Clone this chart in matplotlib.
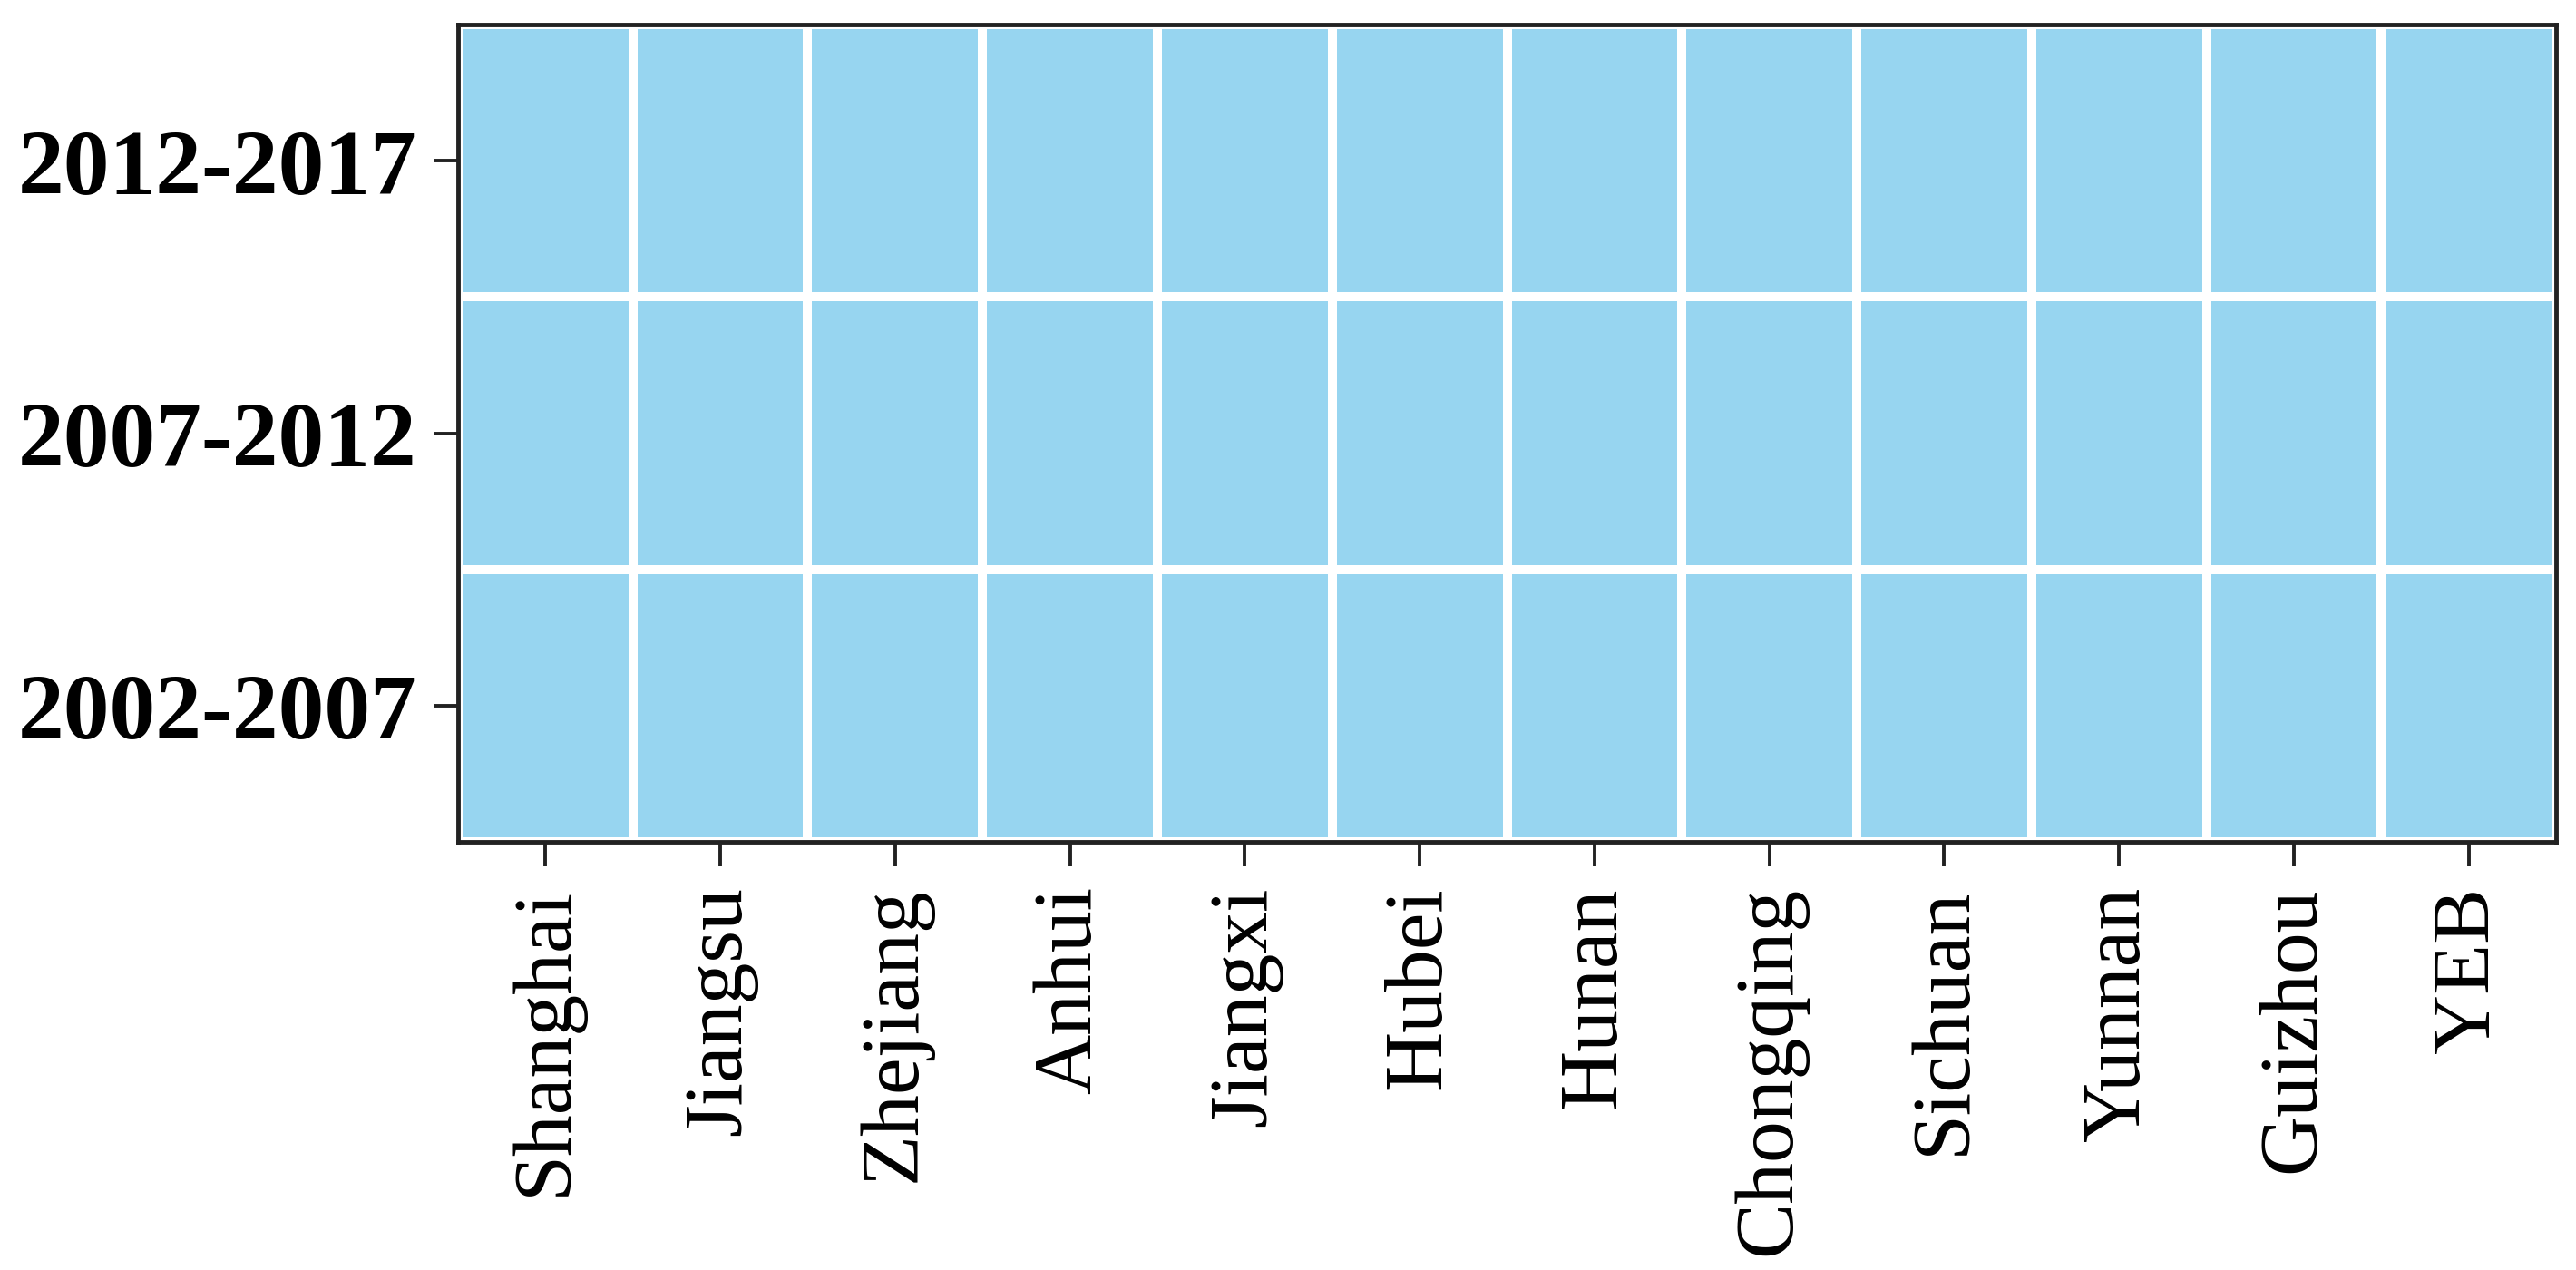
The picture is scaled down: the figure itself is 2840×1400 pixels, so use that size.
import numpy as np
import matplotlib
matplotlib.use("Agg")
import matplotlib.pyplot as plt
from matplotlib.colors import ListedColormap

regions = ["Shanghai", "Jiangsu", "Zhejiang", "Anhui", "Jiangxi", "Hubei",
           "Hunan", "Chongqing", "Sichuan", "Yunnan", "Guizhou", "YEB"]
periods = ["2002-2007", "2007-2012", "2012-2017"]
# every cell shows the same (uniform) category in the reference
values = np.ones((len(periods), len(regions)))

cell_color = "#97D5F0"

plt.rcParams['font.family'] = ['Liberation Serif', 'DejaVu Serif']

fig = plt.figure(figsize=(28.4, 14), dpi=100)
ax = fig.add_axes([0.1778, 0.3371, 0.9923 - 0.1778, 0.9807 - 0.3371])

ax.pcolormesh(np.arange(len(regions) + 1), np.arange(len(periods) + 1), values,
              cmap=ListedColormap([cell_color]), edgecolors="white",
              linewidth=7.2, vmin=0, vmax=2)

ax.set_xlim(0, len(regions))
ax.set_ylim(0, len(periods))
ax.set_xticks(np.arange(len(regions)) + 0.5)
ax.set_xticklabels(regions, rotation=90, fontsize=66)
ax.set_yticks(np.arange(len(periods)) + 0.5)
ax.set_yticklabels(periods, fontsize=73, fontweight="bold")

for s in ax.spines.values():
    s.set_linewidth(3.5)
    s.set_color("#222222")
ax.tick_params(axis="both", length=19.5, width=2.8, color="#222222")
ax.tick_params(axis="y", pad=13)
ax.tick_params(axis="x", pad=16)

fig.savefig("out.png", dpi=100)
